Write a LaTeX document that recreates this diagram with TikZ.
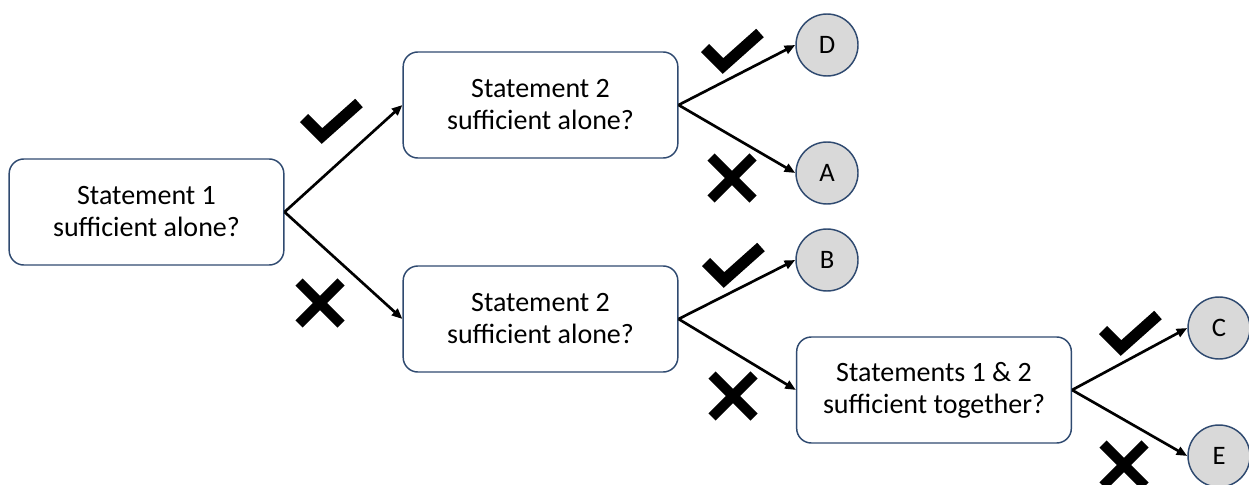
\documentclass[tikz,border=0pt]{standalone}
\usepackage{fontspec}
\setmainfont{Carlito}
\usetikzlibrary{arrows.meta}
\definecolor{boxline}{HTML}{2F4A70}
\definecolor{leaffill}{HTML}{D9D9D9}
\begin{document}
\begin{tikzpicture}[x=0.75pt,y=-0.75pt,
  question/.style={draw=boxline, line width=1.1pt, rounded corners=11pt,
    minimum width=206pt, minimum height=79.5pt, align=center,
    font=\fontsize{21}{24}\selectfont, inner sep=0pt},
  leaf/.style={circle, draw=boxline, fill=leaffill, line width=1.1pt,
    minimum size=46.5pt, inner sep=0pt, font=\fontsize{20}{24}\selectfont},
  flow/.style={-{Triangle[length=8pt,width=6.5pt]}, line width=2pt},
  checkmark/.pic={\draw[line width=8.5pt, miter limit=10] (-27,-2) -- (-9,16) -- (28,-17);},
  crossmark/.pic={\draw[line width=7.5pt] (-21,-21) -- (21,21) (-21,21) -- (21,-21);}
]
\useasboundingbox (0,0) rectangle (1249,485);

% decision boxes
\node[question] (q1) at (146.5,212) {Statement 1\\sufficient alone?};
\node[question] (q2) at (540.5,105) {Statement 2\\sufficient alone?};
\node[question] (q3) at (540.5,319) {Statement 2\\sufficient alone?};
\node[question] (q4) at (934,390) {Statements 1 \& 2\\sufficient together?};

% answers
\node[leaf] (D) at (827,45) {D};
\node[leaf] (A) at (827,173) {A};
\node[leaf] (B) at (827,260) {B};
\node[leaf] (C) at (1219,328) {C};
\node[leaf] (E) at (1219,456) {E};

% branches
\draw[flow] (q1.east) -- (q2.west);
\draw[flow] (q1.east) -- (q3.west);
\draw[flow] (q2.east) -- (D.west);
\draw[flow] (q2.east) -- (A.west);
\draw[flow] (q3.east) -- (B.west);
\draw[flow] (q3.east) -- (q4.west);
\draw[flow] (q4.east) -- (C.west);
\draw[flow] (q4.east) -- (E.west);

% yes / no marks
\pic at (331,120) {checkmark};
\pic at (320,303) {crossmark};
\pic at (732,50) {checkmark};
\pic at (732,178) {crossmark};
\pic at (733,264) {checkmark};
\pic at (733,396) {crossmark};
\pic at (1130,332) {checkmark};
\pic at (1124,465) {crossmark};
\end{tikzpicture}
\end{document}
